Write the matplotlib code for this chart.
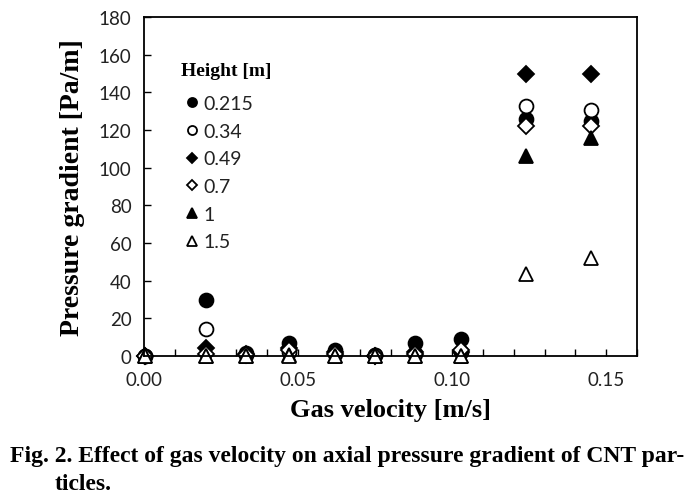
import matplotlib
matplotlib.use('Agg')
import matplotlib.pyplot as plt
from matplotlib.ticker import MultipleLocator

# data
velocity = [0.0003, 0.020, 0.033, 0.047, 0.062, 0.075, 0.088, 0.103, 0.124, 0.145]
heights = ['0.215', '0.34', '0.49', '0.7', '1', '1.5']
dp_0215 = [0, 30, 1.5, 7, 3, 0.5, 7, 9, 126, 125]
dp_034 = [0, 14.5, 0.5, 2, 1, 0.3, 1, 2, 133, 130.5]
dp_049 = [0, 4.5, 1, 4, 2, 0, 2, 2, 150, 149.5]
dp_07 = [0, 1, 0.5, 3, 1, 0, 1, 3, 122, 122]
dp_1 = [0, 0, 0, 0.5, 0, 0, 0, 0, 106, 116]
dp_15 = [0, 0, 0, 0, 0, 0, 0, 0, 43.5, 52]

series = [dp_0215, dp_034, dp_049, dp_07, dp_1, dp_15]
markers = ['o', 'o', 'D', 'D', '^', '^']
filled = [True, False, True, False, True, False]
sizes = [10, 10, 8, 8, 10, 10]

fig = plt.figure(figsize=(6.94, 5.02), dpi=100)
ax = fig.add_axes([144/694, 1-357/502, (637-144)/694, (357-18)/502])

for y, lab, m, f, s in zip(series, heights, markers, filled, sizes):
    ax.plot(velocity, y, linestyle='none', marker=m, markersize=s,
            markerfacecolor='black' if f else 'white', markeredgecolor='black',
            markeredgewidth=1.3, label=lab, clip_on=False)

ax.set_xlim(0, 0.16)
ax.set_ylim(0, 180)
ax.xaxis.set_minor_locator(MultipleLocator(0.01))
ax.yaxis.set_major_locator(MultipleLocator(20))
ax.set_xticks([0, 0.05, 0.10, 0.15])
ax.set_xticklabels(['0.00', '0.05', '0.10', '0.15'])
ax.tick_params(which='both', direction='in', length=5, width=1, labelsize=13.5,
               colors='black')
ax.tick_params(axis='x', pad=11)
ax.tick_params(axis='y', pad=9)
for lbl in ax.get_xticklabels() + ax.get_yticklabels():
    lbl.set_fontfamily('Lato')
    lbl.set_color('#222222')
for sp in ax.spines.values():
    sp.set_linewidth(1.3)

ax.set_xlabel('Gas velocity [m/s]', fontfamily='Liberation Serif', fontweight='bold',
              fontsize=19, labelpad=7)
ax.set_ylabel('Pressure gradient [Pa/m]', fontfamily='Liberation Serif', fontweight='bold',
              fontsize=20, labelpad=10)

fig.text(181/694, 1-71/502, 'Height [m]', fontfamily='Liberation Serif',
         fontweight='bold', fontsize=14, va='center')
leg = ax.legend(loc='upper left', bbox_to_anchor=(186/694, 1-96/502),
                bbox_transform=fig.transFigure, frameon=False, markerscale=0.65,
                handlelength=0.6, handletextpad=0.3, labelspacing=0.55,
                borderaxespad=0, borderpad=0,
                prop={'family': 'Lato', 'size': 14})
for t in leg.get_texts():
    t.set_color('#222222')

fig.text(10/694, 1-457/502, 'Fig. 2. Effect of gas velocity on axial pressure gradient of CNT par-',
         fontfamily='Liberation Serif', fontweight='bold', fontsize=17, va='center')
fig.text(55/694, 1-485/502, 'ticles.',
         fontfamily='Liberation Serif', fontweight='bold', fontsize=17, va='center')

fig.savefig('out.png', dpi=100)
